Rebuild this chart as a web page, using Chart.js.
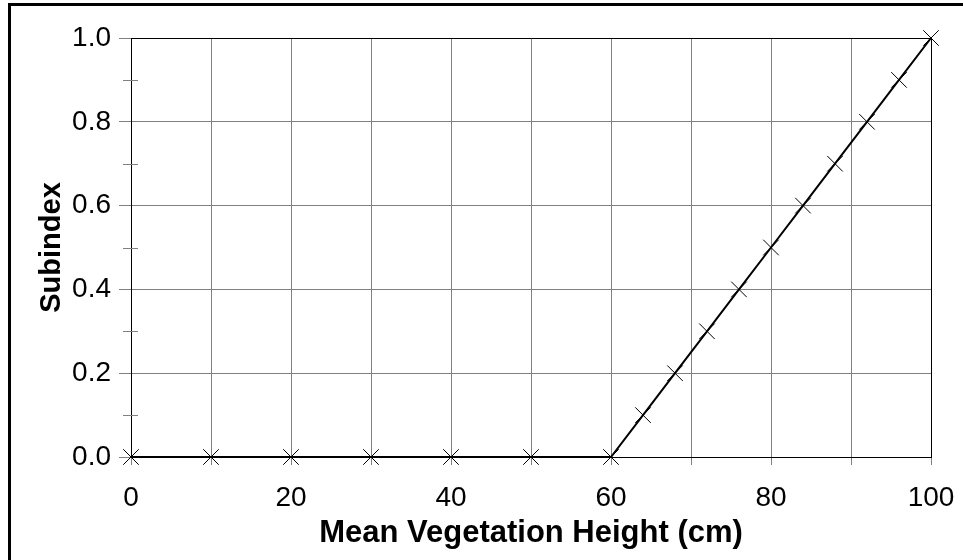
<!DOCTYPE html>
<html>
<head>
<meta charset="utf-8">
<script src="https://cdn.jsdelivr.net/npm/chart.js@4/dist/chart.umd.min.js"></script>
<style>
  html, body { margin: 0; padding: 0; background: #fff; }
  #wrap { width: 963px; height: 560px; position: relative; }
</style>
</head>
<body>
<div id="wrap"><canvas id="height-chart"></canvas></div>
<script>
// values
const heights = [0, 10, 20, 30, 40, 50, 60, 64, 68, 72, 76, 80, 84, 88, 92, 96, 100];
const subindex = [0, 0, 0, 0, 0, 0, 0, 0.1, 0.2, 0.3, 0.4, 0.5, 0.6, 0.7, 0.8, 0.9, 1.0];
const xTickLabels = [0, 20, 40, 60, 80, 100];
const yMinorTicks = [0.1, 0.3, 0.5, 0.7, 0.9];

const fontFamily = '"Liberation Sans", Arial, sans-serif';

// frame lines on the left/top edge, box around plot, minor y ticks
const framePlugin = {
    id: 'frame',
    beforeDraw(chart) {
        const ctx = chart.ctx;
        ctx.save();
        ctx.fillStyle = '#fff';
        ctx.fillRect(0, 0, chart.width, chart.height);
        ctx.fillStyle = '#000';
        ctx.fillRect(8, 3, 3, chart.height - 3);
        ctx.fillRect(8, 3, chart.width - 8, 3);
        ctx.restore();
    },
    beforeDatasetsDraw(chart) {
        const ctx = chart.ctx;
        const area = chart.chartArea;
        const yScale = chart.scales.y;
        ctx.save();
        ctx.strokeStyle = '#808080';
        ctx.lineWidth = 1;
        yMinorTicks.forEach(v => {
            const y = Math.round(yScale.getPixelForValue(v)) + 0.5;
            ctx.beginPath();
            ctx.moveTo(area.left - 8, y);
            ctx.lineTo(area.left + 7, y);
            ctx.stroke();
        });
        ctx.strokeStyle = '#000';
        ctx.beginPath();
        ctx.moveTo(area.left, area.top + 0.5);
        ctx.lineTo(area.right + 0.5, area.top + 0.5);
        ctx.lineTo(area.right + 0.5, area.bottom);
        ctx.stroke();
        ctx.restore();
    }
};

new Chart(document.getElementById('height-chart'), {
    type: 'scatter',
    data: {
        datasets: [{
            data: heights.map((h, i) => ({ x: h, y: subindex[i] })),
            showLine: true,
            clip: false,
            borderColor: '#000',
            borderWidth: 2,
            pointStyle: 'crossRot',
            pointRadius: 11,
            pointBorderWidth: 1,
            pointBorderColor: '#000',
            pointBackgroundColor: '#000'
        }]
    },
    options: {
        responsive: true,
        maintainAspectRatio: false,
        animation: false,
        layout: { padding: { top: 38, right: 32, bottom: 0, left: 0 } },
        plugins: {
            legend: { display: false },
            tooltip: { enabled: false }
        },
        scales: {
            x: {
                type: 'linear',
                min: 0,
                max: 100,
                afterFit(scale) {
                    scale.height = 103;
                    scale.paddingLeft = 0;
                    scale.paddingRight = 0;
                },
                ticks: {
                    stepSize: 10,
                    autoSkip: false,
                    maxRotation: 0,
                    padding: 16,
                    color: '#000',
                    font: { family: fontFamily, size: 28 },
                    callback: v => xTickLabels.includes(v) ? String(v) : ''
                },
                grid: { color: '#808080', tickColor: '#808080', tickLength: 8, lineWidth: 1 },
                border: { color: '#000', width: 1 },
                title: {
                    display: true,
                    text: 'Mean Vegetation Height (cm)',
                    color: '#000',
                    font: { family: fontFamily, size: 31, weight: 'bold' },
                    padding: { top: 0, bottom: 8 }
                }
            },
            y: {
                min: 0,
                max: 1,
                afterFit(scale) {
                    scale.width = 131;
                    scale.paddingTop = 0;
                    scale.paddingBottom = 0;
                },
                ticks: {
                    stepSize: 0.2,
                    padding: 8,
                    color: '#000',
                    font: { family: fontFamily, size: 28 },
                    callback: v => v.toFixed(1)
                },
                grid: { color: '#808080', tickColor: '#808080', tickLength: 12, lineWidth: 1 },
                border: { color: '#000', width: 1 },
                title: {
                    display: true,
                    text: 'Subindex',
                    color: '#000',
                    font: { family: fontFamily, size: 29, weight: 'bold' },
                    padding: { top: 35, bottom: 0 }
                }
            }
        }
    },
    plugins: [framePlugin]
});
</script>
</body>
</html>
